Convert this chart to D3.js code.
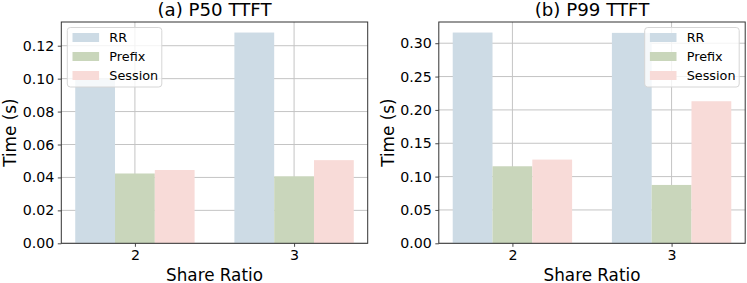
<!DOCTYPE html>
<html>
<head>
<meta charset="utf-8">
<script src="https://cdn.jsdelivr.net/npm/d3@7"></script>
<style>
  body { margin: 0; background: #fff; }
  svg { display: block; font-family: "DejaVu Sans", sans-serif; }
</style>
</head>
<body>
<svg id="chart" width="747" height="283"></svg>
<script>
// share ratio groups and the three routing policies
var shareRatios = ["2", "3"];
var policies = ["RR", "Prefix", "Session"];
var colors = ["#cddbe5", "#c9d6bb", "#f8dbd8"];

// TTFT in seconds, one array per policy (index = share ratio group)
var p50RR = [0.100, 0.128],
    p50Prefix = [0.0424, 0.0407],
    p50Session = [0.0445, 0.0505];
var p99RR = [0.316, 0.3155],
    p99Prefix = [0.1155, 0.0875],
    p99Session = [0.1255, 0.213];

var p50Ticks = [0, 0.02, 0.04, 0.06, 0.08, 0.10, 0.12];
var p99Ticks = [0, 0.05, 0.10, 0.15, 0.20, 0.25, 0.30];

var svg = d3.select("#chart");
var fmt = d3.format(".2f");
var barW = 0.25;

function drawPanel(opts) {
  var x0 = opts.left, x1 = opts.left + 306.4, y0 = 22, y1 = 243.3;
  var series = opts.series;
  var maxVal = d3.max(series, function(s) { return d3.max(s); });

  var x = d3.scaleLinear().domain([-0.4625, 1.4625]).range([x0, x1]);
  var y = d3.scaleLinear().domain([0, maxVal * 1.05]).range([y1, y0]);

  var g = svg.append("g");

  // grid (under bars)
  g.selectAll(".hgrid").data(opts.ticks).enter().append("line")
    .attr("x1", x0).attr("x2", x1)
    .attr("y1", function(d) { return y(d); }).attr("y2", function(d) { return y(d); })
    .attr("stroke", "#c4c4c4").attr("stroke-width", 1);
  g.selectAll(".vgrid").data(shareRatios).enter().append("line")
    .attr("x1", function(d, i) { return x(i); }).attr("x2", function(d, i) { return x(i); })
    .attr("y1", y0).attr("y2", y1)
    .attr("stroke", "#c4c4c4").attr("stroke-width", 1);

  // bars
  series.forEach(function(vals, k) {
    g.selectAll(".bar" + k).data(vals).enter().append("rect")
      .attr("x", function(d, i) { return x(i + (k - 1) * barW - barW / 2); })
      .attr("width", x(barW) - x(0))
      .attr("y", function(d) { return y(d); })
      .attr("height", function(d) { return y1 - y(d); })
      .attr("fill", colors[k]);
  });

  // axes
  var yAxis = g.append("g").attr("transform", "translate(" + x0 + ",0)")
    .call(d3.axisLeft(y).tickValues(opts.ticks).tickFormat(fmt).tickSize(3.5).tickPadding(3.5));
  var xAxis = g.append("g").attr("transform", "translate(0," + y1 + ")")
    .call(d3.axisBottom(x).tickValues([0, 1]).tickFormat(function(d) { return shareRatios[d]; })
      .tickSize(3.5).tickPadding(3.5));
  [yAxis, xAxis].forEach(function(a) {
    a.select(".domain").remove();
    a.selectAll("text").attr("font-size", 14.2).attr("fill", "#000")
      .attr("font-family", "DejaVu Sans");
    a.selectAll("line").attr("stroke", "#333").attr("stroke-width", 0.9);
  });

  // frame
  g.append("rect").attr("x", x0).attr("y", y0)
    .attr("width", x1 - x0).attr("height", y1 - y0)
    .attr("fill", "none").attr("stroke", "#333").attr("stroke-width", 1);

  // title + labels
  g.append("text").attr("x", (x0 + x1) / 2).attr("y", 15.5)
    .attr("text-anchor", "middle").attr("font-size", 18.2).text(opts.title);
  g.append("text").attr("x", (x0 + x1) / 2).attr("y", 280.5)
    .attr("text-anchor", "middle").attr("font-size", 16.8).text("Share Ratio");
  g.append("text")
    .attr("transform", "translate(" + (x0 - 45) + "," + ((y0 + y1) / 2) + ") rotate(-90)")
    .attr("text-anchor", "middle").attr("font-size", 16.8).text("Time (s)");

  // legend
  var lx = opts.legendRight ? x1 - 6 - 94.5 : x0 + 6, ly = y0 + 5.5;
  var lg = g.append("g").attr("transform", "translate(" + lx + "," + ly + ")");
  lg.append("rect").attr("width", 94.5).attr("height", 59.5).attr("rx", 3)
    .attr("fill", "#fff").attr("fill-opacity", 0.8)
    .attr("stroke", "#d6d6d6").attr("stroke-width", 1);
  policies.forEach(function(p, k) {
    var cy = 10 + k * 19;
    lg.append("rect").attr("x", 5.2).attr("y", cy - 4.5)
      .attr("width", 26.6).attr("height", 9).attr("fill", colors[k]);
    lg.append("text").attr("x", 42).attr("y", cy + 4.6)
      .attr("font-size", 12.8).text(p);
  });
}

drawPanel({ left: 61.3, title: "(a) P50 TTFT", series: [p50RR, p50Prefix, p50Session], ticks: p50Ticks, legendRight: false });
drawPanel({ left: 438.8, title: "(b) P99 TTFT", series: [p99RR, p99Prefix, p99Session], ticks: p99Ticks, legendRight: true });
</script>
</body>
</html>
